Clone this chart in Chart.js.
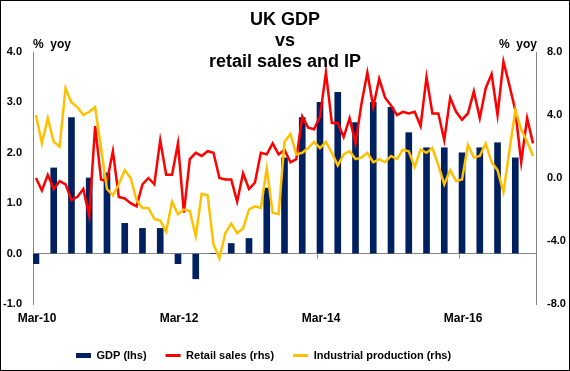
<!DOCTYPE html>
<html>
<head>
<meta charset="utf-8">
<script src="https://cdn.jsdelivr.net/npm/chart.js@4"></script>
<style>
  html, body { margin: 0; padding: 0; background: #fff; }
  #wrap { position: relative; width: 570px; height: 371px; border: 1px solid #000; box-sizing: border-box;
          font-family: "Liberation Sans", Arial, sans-serif; }
  #c { position: absolute; left: 0; top: 0; }
  .title { position: absolute; left: 0; width: 568px; top: 8px; text-align: center; font-weight: bold;
           font-size: 18px; line-height: 21px; color: #000; }
  .unit { position: absolute; top: 36px; font-weight: bold; font-size: 12px; line-height: 14px; color: #000; white-space: pre; }
</style>
</head>
<body>
<div id="wrap">
  <canvas id="c" width="568" height="369"></canvas>
  <div class="title">UK GDP<br>vs<br>retail sales and IP</div>
  <div class="unit" style="left:32px">%  yoy</div>
  <div class="unit" style="left:498px">%  yoy</div>
</div>
<script>
// x axis counts months from Mar-10
const tickMonths = [0, 24, 48, 72];
const tickLabels = ["Mar-10", "Mar-12", "Mar-14", "Mar-16"];

// GDP % yoy, quarterly Q1-10 .. Q4-16 (lhs)
const gdp = [-0.2, 1.7, 2.7, 1.5, 1.6, 0.6, 0.5, 0.5, -0.2, -0.5, 0.0, 0.2, 0.3, 1.3,
             1.9, 2.7, 3.0, 3.2, 2.6, 3.0, 2.9, 2.4, 2.1, 2.1, 2.0, 2.1, 2.2, 1.9];

// retail sales % yoy, monthly Mar-10 .. Mar-17 (rhs)
const retail = [0.0, -0.8, 0.2, -0.7, -0.2, -0.4, -1.4, -1.2, -0.7, -2.4, 3.3, -0.1,
                -0.2, 1.7, -1.2, -1.3, -1.6, -1.8, -0.4, 0.0, -0.4, 2.4, 0.2, 0.2,
                2.2, -2.2, 1.2, 1.6, 1.4, 1.7, 1.6, 0.0, -0.1, -0.1, -1.5, 0.3,
                -0.7, -0.3, 1.6, 1.5, 2.2, 1.5, 1.8, 1.0, 1.2, 3.9, 3.2, 3.1,
                3.9, 6.7, 3.5, 3.5, 2.6, 3.8, 2.2, 4.7, 6.7, 4.5, 6.3, 5.1,
                4.6, 4.0, 4.2, 4.1, 4.2, 3.3, 6.4, 4.1, 4.1, 2.4, 5.1, 4.2,
                3.7, 4.1, 5.5, 3.8, 5.7, 6.6, 4.0, 7.4, 5.9, 4.3, 1.0, 3.8, 2.2];

// industrial production % yoy, monthly Mar-10 .. Mar-17 (rhs)
const ip = [4.0, 2.2, 3.8, 2.3, 2.0, 5.7, 4.8, 4.5, 4.0, 4.2, 4.5, 1.9,
            -0.7, -1.1, -0.4, 0.5, 0.0, -1.4, -1.9, -1.9, -2.6, -2.7, -3.4, -1.5,
            -2.3, -2.0, -2.1, -3.7, -1.0, -1.1, -4.2, -5.1, -3.5, -2.9, -3.5, -3.2,
            -2.0, -1.8, -1.9, 0.6, -2.2, -2.3, 2.3, 2.8, 1.5, 1.6, 1.9, 2.3,
            1.9, 2.3, 1.6, 0.8, 1.5, 1.7, 1.2, 1.3, 1.6, 1.0, 1.2, 1.0,
            1.4, 1.2, 1.8, 1.7, 0.7, 1.8, 1.6, 1.9, 0.8, -0.4, 0.5, -0.2,
            -0.1, 2.1, 1.3, 1.4, 2.2, 1.0, 0.5, -0.9, 1.7, 4.3, 3.1, 2.3, 1.4];

const FONT = '"Liberation Sans", Arial, sans-serif';
const AXIS = "#868686";

// small tick marks on the zero line, like the excel original
const zeroTicks = {
  id: "zeroTicks",
  beforeDatasetsDraw(chart){
    const { ctx, scales: { x, y } } = chart;
    const y0 = Math.round(y.getPixelForValue(0)) + 0.5;
    ctx.save();
    ctx.strokeStyle = AXIS; ctx.lineWidth = 1;
    tickMonths.forEach(m => {
      const px = Math.round(x.getPixelForValue(m)) + 0.5;
      ctx.beginPath(); ctx.moveTo(px, y0); ctx.lineTo(px, y0 + 4); ctx.stroke();
    });
    ctx.restore();
  }
};

// legend sits left of centre in the reference
const legendPlace = {
  id: "legendPlace",
  afterLayout(chart){
    const lg = chart.legend;
    const h = lg.bottom - lg.top;
    lg.left = 56;
    lg.top = 369 - h + 1;
    lg.bottom = lg.top + h;
  }
};

new Chart(document.getElementById("c").getContext("2d"), {
  data: {
    datasets: [
      { type: "bar", label: "GDP (lhs)", data: gdp.map((v, i) => ({ x: i * 3 + 0.5, y: v })),
        backgroundColor: "#002060", barThickness: 6, yAxisID: "y", order: 3 },
      { type: "line", label: "Retail sales (rhs)", data: retail.map((v, i) => ({ x: i + 0.5, y: v })),
        borderColor: "#ff0000", backgroundColor: "#ff0000", borderWidth: 2.5, pointRadius: 0,
        tension: 0, yAxisID: "y2", order: 2 },
      { type: "line", label: "Industrial production (rhs)", data: ip.map((v, i) => ({ x: i + 0.5, y: v })),
        borderColor: "#ffc000", backgroundColor: "#ffc000", borderWidth: 2.5, pointRadius: 0,
        tension: 0, yAxisID: "y2", order: 1 }
    ]
  },
  options: {
    responsive: false,
    animation: false,
    layout: { padding: { top: 51, left: 0, right: 0, bottom: 0 } },
    plugins: {
      title: { display: false },
      tooltip: { enabled: false },
      legend: {
        position: "bottom",
        align: "start",
        labels: {
          usePointStyle: true, pointStyleWidth: 15, boxHeight: 5, padding: 19,
          color: "#000", font: { family: FONT, size: 11, weight: "bold" },
          generateLabels: chart => chart.data.datasets.map((ds, i) => ({
            text: ds.label,
            fillStyle: ds.type === "bar" ? ds.backgroundColor : ds.borderColor,
            strokeStyle: ds.type === "bar" ? ds.backgroundColor : ds.borderColor,
            lineWidth: ds.type === "bar" ? 0 : 3,
            pointStyle: ds.type === "bar" ? "rect" : "line",
            fontColor: "#000", hidden: false, datasetIndex: i
          }))
        }
      }
    },
    scales: {
      x: {
        type: "linear", min: 0, max: 85, position: "bottom", offset: false,
        grid: { display: false, drawTicks: false, offset: false }, border: { display: false },
        afterFit: s => { s.height = 26; },
        ticks: {
          stepSize: 24, autoSkip: false, maxRotation: 0, padding: 7, labelOffset: 4,
          color: "#000", font: { family: FONT, size: 12, weight: "bold" },
          callback: v => { const k = tickMonths.indexOf(v); return k < 0 ? "" : tickLabels[k]; }
        }
      },
      y: {
        position: "left", min: -1, max: 4,
        afterFit: s => { s.width = 32; },
        border: { display: true, color: AXIS },
        grid: { drawTicks: false, color: c => (c.tick && c.tick.value === 0) ? AXIS : "rgba(0,0,0,0)" },
        ticks: { stepSize: 1, padding: 11, color: "#000", font: { family: FONT, size: 11, weight: "bold" },
                 callback: v => v.toFixed(1) }
      },
      y2: {
        position: "right", min: -8, max: 8,
        afterFit: s => { s.width = 33; },
        border: { display: true, color: AXIS },
        grid: { drawOnChartArea: false, drawTicks: false },
        ticks: { stepSize: 4, padding: 11, crossAlign: "near", color: "#000",
                 font: { family: FONT, size: 11, weight: "bold" }, callback: v => v.toFixed(1) }
      }
    }
  },
  plugins: [zeroTicks, legendPlace]
});
</script>
</body>
</html>
